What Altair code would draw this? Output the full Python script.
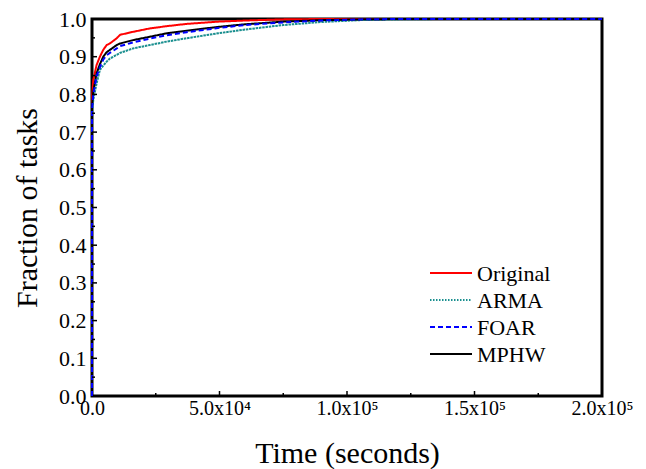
import altair as alt
import pandas as pd

# ---- data ----
time_s = [0, 0, 500, 1800, 3100, 4400, 5750, 7000, 9700, 11000, 16100, 22700,
          29300, 37100, 49400, 60000, 75000, 90000, 105000, 120000, 140000, 200000]
original = [0, 0.79, 0.838, 0.878, 0.90, 0.918, 0.931, 0.935, 0.949, 0.958, 0.966,
            0.975, 0.981, 0.987, 0.993, 0.996, 0.999, 1.0, 1.0, 1.0, 1.0, 1.0]
arma = [0, 0.75, 0.785, 0.829, 0.865, 0.876, 0.887, 0.895, 0.905, 0.91, 0.922,
        0.931, 0.94, 0.949, 0.962, 0.972, 0.984, 0.992, 0.997, 0.999, 1.0, 1.0]
foar = [0, 0.76, 0.80, 0.848, 0.872, 0.892, 0.904, 0.91, 0.922, 0.928, 0.938,
        0.948, 0.957, 0.965, 0.976, 0.984, 0.991, 0.996, 0.999, 1.0, 1.0, 1.0]
mphw = [0, 0.77, 0.807, 0.856, 0.88, 0.90, 0.912, 0.918, 0.931, 0.935, 0.944,
        0.953, 0.962, 0.969, 0.979, 0.986, 0.993, 0.997, 0.999, 1.0, 1.0, 1.0]

series_names = ["Original", "ARMA", "FOAR", "MPHW"]
series_colors = ["#ff0000", "#1a8f8f", "#0000ff", "#000000"]
series_dash = [[1, 0], [2.5, 0.8], [5, 3], [1, 0]]
legend_dash = [[1, 0], [1.5, 1.5], [5, 3], [1, 0]]
draw_order = ["Original", "ARMA", "MPHW", "FOAR"]

x_major = [0, 50000, 100000, 150000, 200000]
x_labels = ["0.0", "5.0x10\u2074", "1.0x10\u2075", "1.5x10\u2075", "2.0x10\u2075"]
x_minor = [25000, 75000, 125000, 175000]
y_major = [round(0.1 * i, 1) for i in range(11)]
y_minor = [round(0.05 + 0.1 * i, 2) for i in range(10)]

FONT = "Liberation Serif"
W, H = 510, 377

values = {"Original": original, "ARMA": arma, "FOAR": foar, "MPHW": mphw}
rows = []
for name in draw_order:
    for i, (t, v) in enumerate(zip(time_s, values[name])):
        rows.append({"series": name, "t": t, "f": v, "i": i})
df = pd.DataFrame(rows)

label_expr = "''"
for v, lab in zip(reversed(x_major), reversed(x_labels)):
    label_expr = f"datum.value == {v} ? '{lab}' : ({label_expr})"

xscale = alt.Scale(domain=[0, 200000], nice=False, zero=False)
yscale = alt.Scale(domain=[0, 1], nice=False)

lines = alt.Chart(df).mark_line(strokeWidth=2, clip=False).encode(
    x=alt.X("t:Q", scale=xscale,
            axis=alt.Axis(values=x_major, labelExpr=label_expr, title="Time (seconds)",
                          domain=False, ticks=False, grid=False, labelOverlap=False,
                          labelFont=FONT, labelFontSize=20, labelColor="black",
                          labelPadding=2, labelFlush=False,
                          titleFont=FONT, titleFontSize=30, titleFontWeight="normal",
                          titleColor="black", titleBaseline="alphabetic", titleY=66)),
    y=alt.Y("f:Q", scale=yscale,
            axis=alt.Axis(values=y_major, format=".1f", title="Fraction of tasks",
                          domain=False, ticks=False, grid=False, labelOverlap=False,
                          labelFont=FONT, labelFontSize=22, labelColor="black",
                          labelPadding=6, labelFlush=False,
                          titleFont=FONT, titleFontSize=30, titleFontWeight="normal",
                          titleColor="black", titleBaseline="alphabetic", titleX=-56)),
    color=alt.Color("series:N", scale=alt.Scale(domain=series_names, range=series_colors),
                    legend=None),
    strokeDash=alt.StrokeDash("series:N", scale=alt.Scale(domain=series_names, range=series_dash),
                              legend=None),
    detail="series:N",
    order=alt.Order("i:Q"),
)

xmaj = alt.Chart(pd.DataFrame({"v": x_major[1:-1]})).mark_rule(color="black", strokeWidth=1.5).encode(
    x=alt.X("v:Q", scale=xscale, axis=None), y=alt.value(H), y2=alt.value(H - 5))
xmin = alt.Chart(pd.DataFrame({"v": x_minor})).mark_rule(color="black", strokeWidth=1.5).encode(
    x=alt.X("v:Q", scale=xscale, axis=None), y=alt.value(H), y2=alt.value(H - 3))
ymaj = alt.Chart(pd.DataFrame({"v": y_major[1:-1]})).mark_rule(color="black", strokeWidth=1.5).encode(
    y=alt.Y("v:Q", scale=yscale, axis=None), x=alt.value(0), x2=alt.value(5))
ymin = alt.Chart(pd.DataFrame({"v": y_minor})).mark_rule(color="black", strokeWidth=1.5).encode(
    y=alt.Y("v:Q", scale=yscale, axis=None), x=alt.value(0), x2=alt.value(3))

# manual legend (inside plot, lower right)
leg_layers = []
leg_y0, leg_dy = 254, 27
for k, (name, col, dash) in enumerate(zip(series_names, series_colors, legend_dash)):
    ly = leg_y0 + k * leg_dy
    ldf = pd.DataFrame({"series": [name]})
    leg_layers.append(
        alt.Chart(ldf).mark_rule(color=col, strokeWidth=2, strokeDash=dash).encode(
            x=alt.value(338), x2=alt.value(380), y=alt.value(ly)))
    leg_layers.append(
        alt.Chart(ldf).mark_text(font=FONT, fontSize=22, color="black", align="left",
                                 baseline="middle").encode(
            x=alt.value(385), y=alt.value(ly + 1), text="series:N"))

chart = alt.layer(lines, xmaj, xmin, ymaj, ymin, *leg_layers).resolve_axis(
    x="independent", y="independent"
).properties(
    width=W, height=H,
    autosize=alt.AutoSizeParams(type="none"),
    padding={"left": 92, "top": 19, "right": 44, "bottom": 73},
    background="white",
).configure_view(stroke="black", strokeWidth=3)

chart.save("out.html", embed_options={"renderer": "svg", "actions": False})
